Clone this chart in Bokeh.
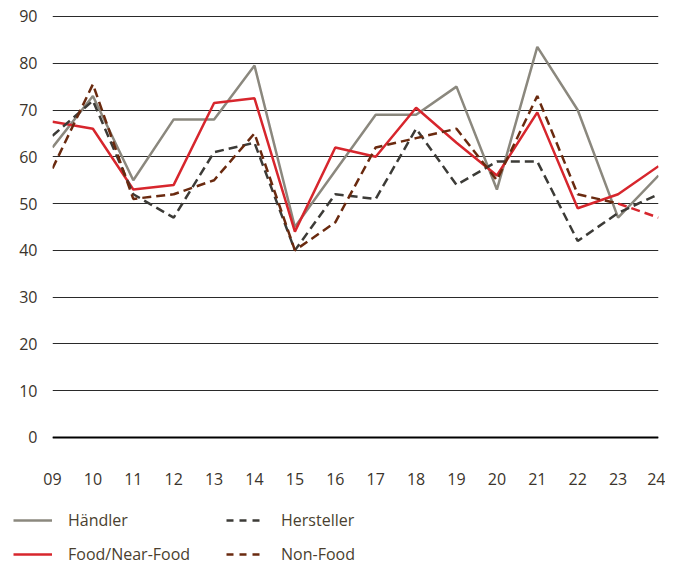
from bokeh.plotting import figure
from bokeh.layouts import column
from bokeh.models import FixedTicker, Legend, LegendItem, Span, Range1d
from bokeh.embed import file_html
from bokeh.resources import INLINE

years = [9, 10, 11, 12, 13, 14, 15, 16, 17, 18, 19, 20, 21, 22, 23, 24]
year_labels = ["09", "10", "11", "12", "13", "14", "15", "16", "17", "18", "19", "20", "21", "22", "23", "24"]
y_ticks = [0, 10, 20, 30, 40, 50, 60, 70, 80, 90]

haendler = [62, 73, 55, 68, 68, 79.5, 45, 57, 69, 69, 75, 53, 83.5, 70, 47, 56]
food = [67.5, 66, 53, 54, 71.5, 72.5, 44, 62, 60, 70.5, 63, 56, 69.5, 49, 52, 58]
hersteller = [64.5, 72, 52, 47, 61, 63, 40, 52, 51, 66, 54, 59, 59, 42, 48, 52]
nonfood = [57.5, 75.5, 51, 52, 55, 65, 40, 46, 62, 64, 66, 55, 73, 52, 50, 47]

series_names = ["Händler", "Food/Near-Food", "Hersteller", "Non-Food"]

FONT = "Open Sans"
TXT = "#3b342c"
C_H = "#8b887e"
C_F = "#d7262d"
C_HS = "#3c3b37"
C_NF = "#6a2a0f"
DASH = "9 5"
LW = 2.5

p = figure(width=665, height=500, output_backend="svg", toolbar_location=None,
           x_range=Range1d(9, 24), y_range=Range1d(-1.07, 90.85),
           min_border_left=52, min_border_right=7, min_border_top=12, min_border_bottom=58)
p.outline_line_color = None
p.background_fill_color = "white"
p.frame_align = False

p.xgrid.visible = False
p.ygrid.ticker = FixedTicker(ticks=y_ticks)
p.ygrid.grid_line_color = "#2a2a2a"
p.ygrid.grid_line_width = 1

p.yaxis.ticker = FixedTicker(ticks=y_ticks)
p.xaxis.ticker = FixedTicker(ticks=years)
p.xaxis.major_label_overrides = {y: l for y, l in zip(years, year_labels)}
for ax in (p.xaxis[0], p.yaxis[0]):
    ax.axis_line_color = None
    ax.major_tick_line_color = None
    ax.minor_tick_line_color = None
    ax.major_label_text_font = FONT
    ax.major_label_text_font_size = "16px"
    ax.major_label_text_color = TXT
p.yaxis.major_label_standoff = 9
p.xaxis.major_label_standoff = 24

p.add_layout(Span(location=0, dimension="width", line_color="black", line_width=2))

p.line(years, haendler, line_color=C_H, line_width=LW)
p.line(years, food, line_color=C_F, line_width=LW)
p.line(years, hersteller, line_color=C_HS, line_width=LW, line_dash=DASH)
p.line(years[:-1], nonfood[:-1], line_color=C_NF, line_width=LW, line_dash=DASH)
p.line(years[-2:], nonfood[-2:], line_color=C_F, line_width=LW, line_dash=DASH)

# legend strip: same series, drawn outside the visible ranges (only the legend shows)
q = figure(width=665, height=65, output_backend="svg", toolbar_location=None,
           x_axis_location=None, y_axis_location=None,
           x_range=Range1d(100, 101), y_range=Range1d(200, 201),
           min_border_left=0, min_border_right=0, min_border_top=0, min_border_bottom=0)
q.outline_line_color = None
q.grid.visible = False
q.frame_align = False
LDASH = "7 6"
l_h = q.line(years, haendler, line_color=C_H, line_width=LW)
l_f = q.line(years, food, line_color=C_F, line_width=LW)
l_hs = q.line(years, hersteller, line_color=C_HS, line_width=LW, line_dash=LDASH)
l_nf = q.line(years, nonfood, line_color=C_NF, line_width=LW, line_dash=LDASH)


def mk_legend(items, loc):
    lg = Legend(items=items, location=loc, orientation="vertical",
                background_fill_alpha=0, border_line_color=None,
                padding=0, margin=0, spacing=12, glyph_width=39, glyph_height=20,
                label_height=20, label_standoff=16,
                label_text_font=FONT, label_text_font_size="16px",
                label_text_color="#4a3f2f")
    q.add_layout(lg, "center")


mk_legend([LegendItem(label=series_names[0], renderers=[l_h]),
           LegendItem(label=series_names[1], renderers=[l_f])], (13, 0))
mk_legend([LegendItem(label=series_names[2], renderers=[l_hs]),
           LegendItem(label=series_names[3], renderers=[l_nf])], (226, 0))

open("out.html", "w").write(file_html(column(p, q, spacing=0), INLINE))
